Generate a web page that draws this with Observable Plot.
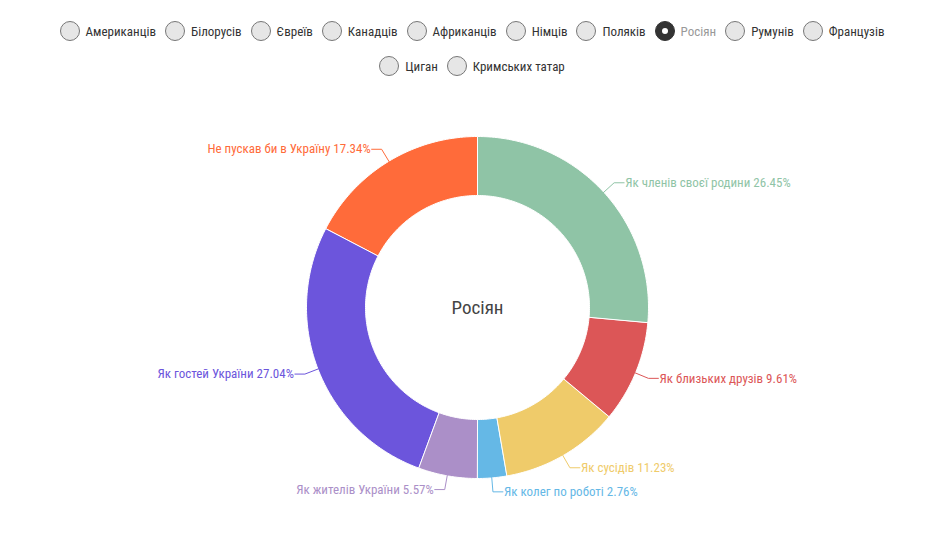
<!DOCTYPE html>
<html><head><meta charset="utf-8">
<script src="https://cdn.jsdelivr.net/npm/d3@7"></script>
<script src="https://cdn.jsdelivr.net/npm/@observablehq/plot@0.6"></script>
<style>
body{margin:0;background:#fff;font-family:"Roboto Condensed","Liberation Sans Narrow","DejaVu Sans Condensed",Roboto,sans-serif;}
#legend{width:928px;height:90px;box-sizing:border-box;padding:20px 32px 0 48px;display:flex;flex-wrap:wrap;justify-content:center;align-content:flex-start;row-gap:13px;column-gap:9px;}
.item{display:flex;align-items:center;height:22px;font-size:13px;color:#333}
.dot{width:20px;height:20px;border-radius:50%;border:1px solid #777;background:#e6e6e6;box-sizing:border-box;margin-right:6px;position:relative}
.sel .dot{background:#333;border-color:#333}
.sel .dot::after{content:"";position:absolute;left:6px;top:6px;width:6px;height:6px;border-radius:50%;background:#fff}
.sel{color:#999}
#chart svg{display:block}
</style></head>
<body>
<div id="legend"></div>
<div id="chart"></div>
<script>
const legendItems = ["Американців","Білорусів","Євреїв","Канадців","Африканців","Німців","Поляків","Росіян","Румунів","Французів","Циган","Кримських татар"];
const selected = "Росіян";
const categories = ["Як членів своєї родини","Як близьких друзів","Як сусідів","Як колег по роботі","Як жителів України","Як гостей України","Не пускав би в Україну"];
const values = [26.45, 9.61, 11.23, 2.76, 5.57, 27.04, 17.34];
const colors = ["#8fc4a6","#dc5657","#efcb6a","#65b8e6","#ab8fc8","#6c55dc","#ff6b3a"];

const legend = document.getElementById("legend");
for (const name of legendItems) {
  const it = document.createElement("div");
  it.className = "item" + (name === selected ? " sel" : "");
  it.innerHTML = '<span class="dot"></span><span></span>';
  it.lastChild.textContent = name;
  legend.appendChild(it);
}

const W = 928, H = 443, CX = 477, CY = 217;
const R_OUT = 171, R_IN = 112, R_ELBOW = 185, R_START = 170, HOOK = 10;
const total = d3.sum(values);
const pt = (r, a) => [r * Math.sin(a), -r * Math.cos(a)];

const arcRows = [], lineRows = [], labelRows = [];
let cum = 0;
categories.forEach((cat, i) => {
  const a0 = cum / total * 2 * Math.PI;
  cum += values[i];
  const a1 = cum / total * 2 * Math.PI;
  const n = Math.max(4, Math.ceil((a1 - a0) * 60));
  for (let k = 0; k <= n; k++) { const [x, y] = pt(R_OUT, a0 + (a1 - a0) * k / n); arcRows.push({cat, x, y}); }
  for (let k = n; k >= 0; k--) { const [x, y] = pt(R_IN, a0 + (a1 - a0) * k / n); arcRows.push({cat, x, y}); }
  const am = (a0 + a1) / 2;
  const side = Math.sin(am) >= 0 ? 1 : -1;
  const [sx, sy] = pt(R_START, am);
  const [ex, ey] = pt(R_ELBOW, am);
  lineRows.push({cat, x: sx, y: sy}, {cat, x: ex, y: ey}, {cat, x: ex + side * HOOK, y: ey});
  labelRows.push({cat, x: ex + side * (HOOK + 1), y: ey, anchor: side > 0 ? "start" : "end",
    text: `${cat} ${values[i].toFixed(2)}%`});
});

const font = '"Roboto Condensed","Liberation Sans Narrow","DejaVu Sans Condensed",Roboto,sans-serif';
const chart = Plot.plot({
  width: W, height: H, margin: 0,
  x: {domain: [-CX, W - CX], range: [0, W], axis: null},
  y: {domain: [-CY, H - CY], range: [0, H], axis: null},
  color: {domain: categories, range: colors},
  style: {fontFamily: font, background: "#fff", overflow: "visible"},
  marks: [
    Plot.line(arcRows, {x: "x", y: "y", z: "cat", fill: "cat", stroke: "#fff", strokeWidth: 1, curve: "linear-closed"}),
    Plot.line(lineRows, {x: "x", y: "y", z: "cat", stroke: "cat", strokeWidth: 1}),
    Plot.text(labelRows.filter(d => d.anchor === "start"), {x: "x", y: "y", text: "text", fill: "cat", textAnchor: "start", fontSize: 13}),
    Plot.text(labelRows.filter(d => d.anchor === "end"), {x: "x", y: "y", text: "text", fill: "cat", textAnchor: "end", fontSize: 13}),
    Plot.text([selected], {x: () => 0, y: () => 0, text: d => d, fill: "#444", fontSize: 19})
  ]
});
document.getElementById("chart").appendChild(chart);
</script>
</body></html>
